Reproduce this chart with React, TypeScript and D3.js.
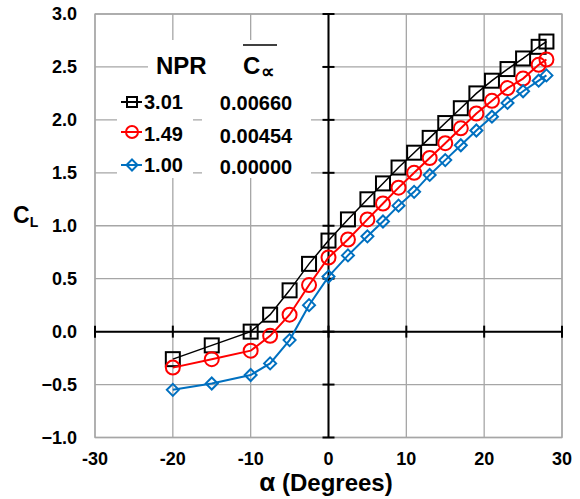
import React from "react";
import * as d3 from "d3";

const alpha = [-20, -15, -10, -7.5, -5, -2.5, 0, 2.5, 5, 7, 9, 11, 13, 15, 17, 19, 21, 23, 25, 27, 28];
const clNpr301 = [-0.26, -0.13, 0.0, 0.16, 0.39, 0.64, 0.86, 1.06, 1.25, 1.4, 1.55, 1.69, 1.83, 1.97, 2.11, 2.25, 2.37, 2.48, 2.58, 2.69, 2.74];
const clNpr149 = [-0.34, -0.26, -0.18, -0.04, 0.16, 0.44, 0.7, 0.87, 1.06, 1.21, 1.36, 1.5, 1.64, 1.78, 1.92, 2.06, 2.18, 2.3, 2.39, 2.52, 2.57];
const clNpr100 = [-0.55, -0.49, -0.41, -0.3, -0.08, 0.25, 0.52, 0.72, 0.9, 1.04, 1.19, 1.32, 1.48, 1.62, 1.76, 1.9, 2.03, 2.16, 2.27, 2.37, 2.42];
const nprLabels = ["3.01", "1.49", "1.00"];
const cmuLabels = ["0.00660", "0.00454", "0.00000"];
const xTicks = [-30, -20, -10, 0, 10, 20, 30];
const yTicks = [-1, -0.5, 0, 0.5, 1, 1.5, 2, 2.5, 3];

const FONT = "'Liberation Sans', Arial, sans-serif";

type Marker = "square" | "circle" | "diamond";

function MarkerShape({ type, cx, cy, size, color }: { type: Marker; cx: number; cy: number; size: number; color: string }) {
  if (type === "square") {
    return <rect x={cx - size / 2} y={cy - size / 2} width={size} height={size} fill="none" stroke={color} strokeWidth={2} />;
  }
  if (type === "circle") {
    return <circle cx={cx} cy={cy} r={size / 2} fill="none" stroke={color} strokeWidth={2} />;
  }
  const h = size / 2;
  return <path d={`M${cx},${cy - h}L${cx + h},${cy}L${cx},${cy + h}L${cx - h},${cy}Z`} fill="none" stroke={color} strokeWidth={2} />;
}

export default function App() {
  const W = 580, H = 499;
  const x = d3.scaleLinear().domain([-30, 30]).range([95, 562]);
  const y = d3.scaleLinear().domain([-1, 3]).range([437.5, 14]);
  const x0 = x(0), y0 = y(0);

  const series = [
    { values: clNpr301, color: "#000000", marker: "square" as Marker, size: 14, lw: 1.5, legSize: 10 },
    { values: clNpr149, color: "#ff0000", marker: "circle" as Marker, size: 14, lw: 2, legSize: 12 },
    { values: clNpr100, color: "#0070c0", marker: "diamond" as Marker, size: 12, lw: 2, legSize: 11 },
  ];

  const line = d3.line<number>().x((_, i) => x(alpha[i])).y((v) => y(v));
  const grid = "#a6a6a6";
  const legRowY = [102, 132, 165];
  const legTextY = [108.5, 141, 172];
  const legValY = [110, 142.5, 173.5];

  return (
    <svg width={W} height={H} style={{ position: "absolute", left: 0, top: 0, background: "#fff" }} fontFamily={FONT}>
      <rect x={0} y={0} width={W} height={H} fill="#fff" />
      {/* grid */}
      {xTicks.map((t) => (
        <line key={"gx" + t} x1={x(t)} x2={x(t)} y1={y(3)} y2={y(-1)} stroke={grid} strokeWidth={1.3} />
      ))}
      {yTicks.map((t) => (
        <line key={"gy" + t} x1={x(-30)} x2={x(30)} y1={y(t)} y2={y(t)} stroke={grid} strokeWidth={1.3} />
      ))}
      <rect x={x(-30)} y={y(3)} width={x(30) - x(-30)} height={y(-1) - y(3)} fill="none" stroke={grid} strokeWidth={1.3} />

      {/* legend backgrounds */}
      <rect x={148} y={40} width={174} height={45} fill="#fff" />
      <rect x={117} y={85} width={76} height={93} fill="#fff" />
      <rect x={202} y={85} width={109} height={93} fill="#fff" />

      {/* axes through zero */}
      <line x1={x(-30)} x2={x(30)} y1={y0} y2={y0} stroke="#000" strokeWidth={2} />
      <line x1={x0} x2={x0} y1={y(3)} y2={y(-1)} stroke="#000" strokeWidth={2} />
      {xTicks.map((t) => (
        <line key={"tx" + t} x1={x(t)} x2={x(t)} y1={y0 - 6} y2={y0 + 6} stroke="#000" strokeWidth={2} />
      ))}
      {yTicks.map((t) => (
        <line key={"ty" + t} x1={x0 - 6} x2={x0 + 6} y1={y(t)} y2={y(t)} stroke="#000" strokeWidth={2} />
      ))}

      {/* tick labels */}
      {yTicks.map((t) => (
        <text key={"ly" + t} x={77} y={y(t) + 6} textAnchor="end" fontSize={18} fontWeight="bold">
          {d3.format(".1f")(t)}
        </text>
      ))}
      {xTicks.map((t) => (
        <text key={"lx" + t} x={x(t)} y={465} textAnchor="middle" fontSize={18} fontWeight="bold">
          {t}
        </text>
      ))}

      {/* axis titles */}
      <text x={326} y={491} textAnchor="middle" fontSize={24} fontWeight="bold">
        <tspan fontSize={26}>α</tspan> (Degrees)
      </text>
      <text x={13} y={223} fontSize={23} fontWeight="bold">
        C
        <tspan fontSize={14} dy={4}>L</tspan>
      </text>

      {/* series */}
      {series.map((s, si) => (
        <g key={"s" + si}>
          <path d={line(s.values) || ""} fill="none" stroke={s.color} strokeWidth={s.lw} />
          {s.values.map((v, i) => (
            <MarkerShape key={i} type={s.marker} cx={x(alpha[i])} cy={y(v)} size={s.size} color={s.color} />
          ))}
        </g>
      ))}

      {/* legend */}
      <text x={156} y={73.5} fontSize={24} fontWeight="bold">NPR</text>
      <text x={243} y={73.5} fontSize={24} fontWeight="bold">
        C
        <tspan fontSize={19} dx={1} dy={4}>∝</tspan>
      </text>
      <line x1={243} x2={277} y1={45} y2={45} stroke="#000" strokeWidth={1.5} />
      {series.map((s, si) => (
        <g key={"leg" + si}>
          <line x1={121} x2={142} y1={legRowY[si]} y2={legRowY[si]} stroke={s.color} strokeWidth={2} />
          <MarkerShape type={s.marker} cx={132} cy={legRowY[si]} size={s.legSize} color={s.color} />
          <text x={144} y={legTextY[si]} fontSize={20} fontWeight="bold">{nprLabels[si]}</text>
          <text x={256} y={legValY[si]} textAnchor="middle" fontSize={20} fontWeight="bold">{cmuLabels[si]}</text>
        </g>
      ))}
    </svg>
  );
}
